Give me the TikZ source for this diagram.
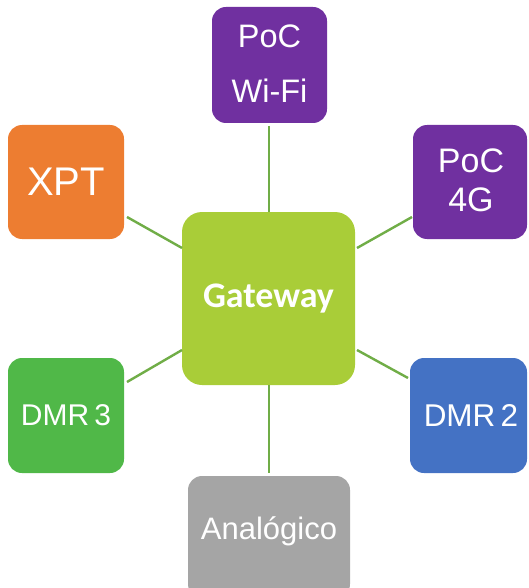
\documentclass[tikz,border=0pt]{standalone}
\usepackage{fontspec}
\setmainfont{Liberation Sans}
\newfontfamily\gwfont{Carlito}
\definecolor{gwgreen}{HTML}{A9CD38}
\definecolor{pocpurple}{HTML}{7030A0}
\definecolor{xptorange}{HTML}{ED7D31}
\definecolor{dmrgreen}{HTML}{50B848}
\definecolor{dmrblue}{HTML}{4472C4}
\definecolor{anagray}{HTML}{A5A5A5}
\definecolor{linkgreen}{HTML}{70AD47}
\begin{document}
\begin{tikzpicture}[x=1pt,y=-1pt,
  box/.style={rounded corners=14pt, text=white, align=center, inner sep=0pt},
  link/.style={draw=linkgreen, line width=2.4pt}]
\useasboundingbox (0,0) rectangle (529,588);
% boxes
\fill[gwgreen, rounded corners=20pt] (182,212) rectangle (355,385);
\node[text=white, font=\gwfont\bfseries\fontsize{36}{40}\selectfont] (gw) at (268.5,298.5) {Gateway};

\fill[pocpurple, rounded corners=14pt] (212,7) rectangle (327,123);
\node[box, font=\fontsize{32.5}{55}\selectfont] (wifi) at (269.5,64) {PoC\\Wi-Fi};

\fill[xptorange, rounded corners=14pt] (8,125) rectangle (124,239);
\node[box, font=\fontsize{40}{44}\selectfont] (xpt) at (66,182) {XPT};

\fill[pocpurple, rounded corners=14pt] (413,125) rectangle (527,239);
\node[box, font=\fontsize{34}{39}\selectfont] (g4) at (471,180) {PoC\\4G};

\fill[dmrgreen, rounded corners=14pt] (8,358) rectangle (124,473);
\node[box, font=\fontsize{30}{34}\selectfont] (dmr3) at (66,415) {DMR\,3};

\fill[dmrblue, rounded corners=14pt] (410,358) rectangle (527,473);
\node[box, font=\fontsize{31.5}{34}\selectfont] (dmr2) at (471,415) {DMR\,2};

\fill[anagray, rounded corners=14pt] (188,476) rectangle (350,598);
\node[box, font=\fontsize{31}{34}\selectfont] (ana) at (269,531) {Analógico};

% connector endpoints
\coordinate (gT) at (269,212);
\coordinate (gB) at (269,385);
\coordinate (gTL) at (182,248);
\coordinate (gTR) at (357,248);
\coordinate (gBL) at (182,350);
\coordinate (gBR) at (357,350);
\coordinate (wifiB) at (269,126);
\coordinate (anaT) at (269,473);
\coordinate (xptR) at (127,217);
\coordinate (g4L) at (412,217);
\coordinate (dmr3R) at (127,382);
\coordinate (dmr2L) at (408,378);
\draw[link] (wifiB) -- (gT);
\draw[link] (gB) -- (anaT);
\draw[link] (xptR) -- (gTL);
\draw[link] (g4L) -- (gTR);
\draw[link] (dmr3R) -- (gBL);
\draw[link] (dmr2L) -- (gBR);
\end{tikzpicture}
\end{document}
